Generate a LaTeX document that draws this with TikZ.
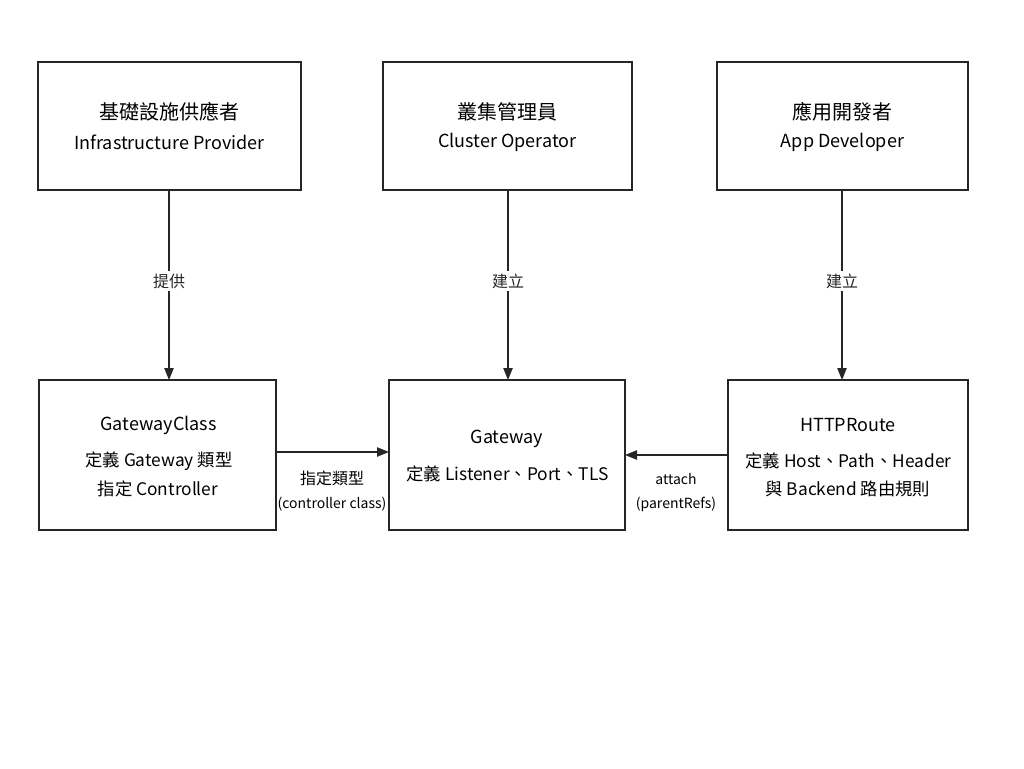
\documentclass[tikz,border=0pt]{standalone}
\usepackage{fontspec}
\setmainfont{Noto Sans CJK TC}
\usetikzlibrary{arrows.meta}
\begin{document}
\begin{tikzpicture}[x=0.75pt,y=-0.75pt,
  box/.style={draw=black!85,line width=1.2pt,fill=white},
  ttl/.style={font=\fontsize{15}{18}\selectfont},
  sub/.style={font=\fontsize{13.5}{17}\selectfont},
  bsub/.style={font=\fontsize{13}{17}\selectfont},
  lbl/.style={font=\fontsize{12}{15}\selectfont,fill=white,inner sep=2pt},
  elbl/.style={font=\fontsize{10.5}{18}\selectfont,align=center},
  arr/.style={-{Triangle[length=9pt,width=7pt]},line width=1pt,black!85}]
\useasboundingbox (0,0) rectangle (1024,768);
\fill[white] (0,0) rectangle (1024,768);
% top boxes
\draw[box] (38,62) rectangle (301,190);
\draw[box] (383,62) rectangle (632,190);
\draw[box] (717,62) rectangle (968,190);
\coordinate (b1s) at (169,190);
\coordinate (b2s) at (508,190);
\coordinate (b3s) at (842,190);
\node[ttl] (t1) at (169.5,112) {基礎設施供應者};
\node[sub] (s1) at (169.5,142) {Infrastructure Provider};
\node[ttl] (t2) at (507.5,112) {叢集管理員};
\node[sub] (s2) at (507.5,142) {Cluster Operator};
\node[ttl] (t3) at (842.5,112) {應用開發者};
\node[sub] (s3) at (842.5,142) {App Developer};
% bottom boxes
\draw[box] (39,380) rectangle (276,530);
\draw[box] (389,380) rectangle (625,530);
\draw[box] (728,380) rectangle (968,530);
\coordinate (g1n) at (169,380);
\coordinate (g2n) at (508,380);
\coordinate (g3n) at (842,380);
\coordinate (g1e) at (276,452);
\coordinate (g2w) at (389,452);
\coordinate (g2e) at (625,455);
\coordinate (g3w) at (728,455);
\node[sub] (n1a) at (158.5,425) {GatewayClass};
\node[bsub] (n1b) at (159,461) {定義 Gateway 類型};
\node[bsub] (n1c) at (158,489) {指定 Controller};
\node[sub] (n2a) at (507,439) {Gateway};
\node[bsub] (n2b) at (507.5,474) {定義 Listener、Port、TLS};
\node[sub] (n3a) at (848,425) {HTTPRoute};
\node[bsub] (n3b) at (848.5,461) {定義 Host、Path、Header};
\node[bsub] (n3c) at (848,489) {與 Backend 路由規則};
% vertical arrows
\draw[arr] (b1s) -- (g1n) node[lbl,pos=0.48] (l1) {提供};
\draw[arr] (b2s) -- (g2n) node[lbl,pos=0.48] (l2) {建立};
\draw[arr] (b3s) -- (g3n) node[lbl,pos=0.48] (l3) {建立};
% horizontal arrows
\draw[arr] (g1e) -- (g2w);
\node[elbl] (e1) at (332,491) {\fontsize{12}{15}\selectfont 指定類型\\(controller class)};
\draw[arr] (g3w) -- (g2e);
\node[elbl] (e2) at (676,493) {attach\\(parentRefs)};
\end{tikzpicture}
\end{document}
